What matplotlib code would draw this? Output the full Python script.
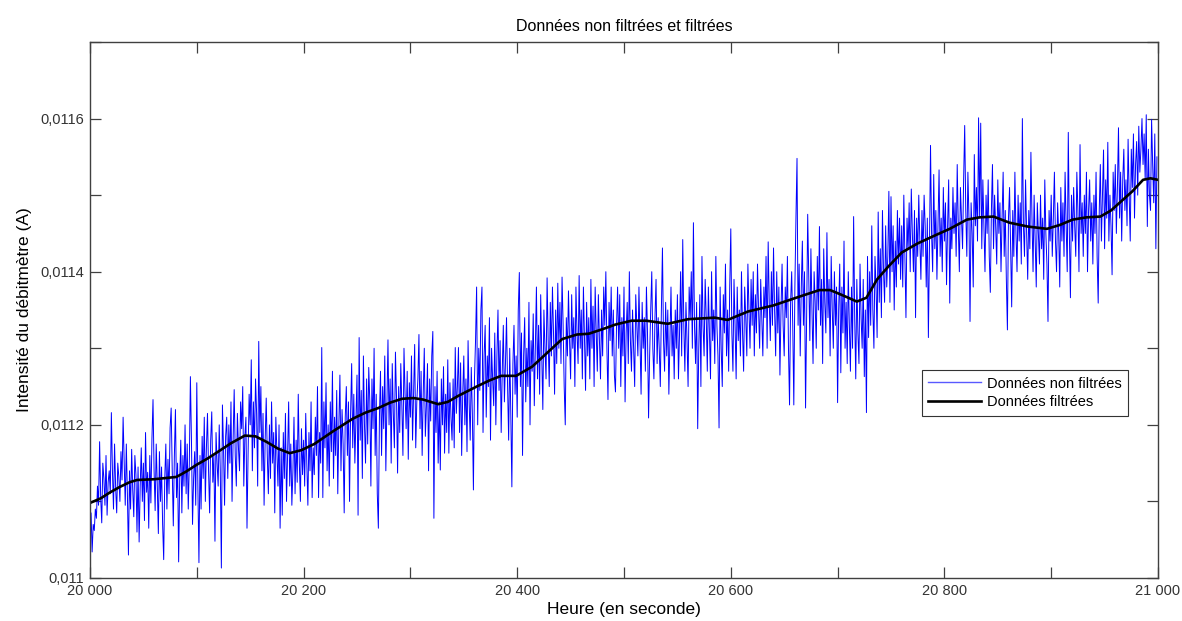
import matplotlib
matplotlib.use("Agg")
import matplotlib.pyplot as plt
from matplotlib.ticker import MultipleLocator, FuncFormatter
import numpy as np

# Time axis (s)
t_start = 20000

# Raw (non filtered) data in microamperes, one sample per second from 20000 s
raw_uA = [
    11040, 11085, 11034, 11070, 11062, 11090, 11078, 11120, 11095, 11178,
    11105, 11072, 11150, 11130, 11095, 11160, 11082, 11125, 11140, 11110,
    11216, 11140, 11090, 11175, 11118, 11085, 11150, 11132, 11100, 11165,
    11128, 11210, 11150, 11095, 11175, 11110, 11030, 11140, 11090, 11168,
    11115, 11080, 11160, 11135, 11060, 11145, 11047, 11120, 11170, 11100,
    11150, 11075, 11190, 11112, 11138, 11065, 11160, 11098, 11182, 11233,
    11140, 11088, 11175, 11120, 11058, 11165, 11100, 11145, 11070, 11024,
    11130, 11175, 11090, 11155, 11110, 11196, 11222, 11140, 11068, 11160,
    11220, 11105, 11150, 11021, 11130, 11180, 11085, 11160, 11120, 11200,
    11110, 11175, 11090, 11150, 11263, 11180, 11070, 11130, 11165, 11095,
    11255, 11120, 11020, 11160, 11090, 11185, 11130, 11210, 11100, 11170,
    11215, 11140, 11085, 11180, 11217, 11125, 11160, 11048, 11190, 11150,
    11120, 11200, 11140, 11013, 11226, 11170, 11095, 11185, 11210, 11130,
    11200, 11150, 11230, 11100, 11180, 11246, 11160, 11120, 11215, 11170,
    11140, 11230, 11195, 11250, 11120, 11185, 11210, 11065, 11160, 11240,
    11200, 11285, 11140, 11230, 11170, 11260, 11215, 11120, 11309, 11190,
    11250, 11140, 11215, 11095, 11180, 11235, 11160, 11110, 11200, 11130,
    11230, 11150, 11190, 11085, 11210, 11165, 11120, 11200, 11065, 11170,
    11082, 11190, 11130, 11215, 11100, 11160, 11230, 11120, 11175, 11095,
    11140, 11210, 11110, 11180, 11125, 11240, 11150, 11100, 11195, 11135,
    11180, 11120, 11215, 11150, 11095, 11190, 11140, 11230, 11105, 11170,
    11135, 11210, 11160, 11250, 11105, 11190, 11150, 11301, 11105, 11230,
    11170, 11255, 11140, 11200, 11120, 11230, 11165, 11270, 11130, 11210,
    11160, 11245, 11110, 11200, 11265, 11140, 11220, 11175, 11085, 11210,
    11250, 11160, 11230, 11100, 11215, 11280, 11170, 11240, 11150, 11205,
    11265, 11082, 11314, 11180, 11245, 11130, 11290, 11200, 11150, 11260,
    11175, 11275, 11230, 11120, 11260, 11195, 11300, 11160, 11240, 11110,
    11065, 11210, 11270, 11160, 11250, 11195, 11290, 11140, 11230, 11311,
    11200, 11260, 11150, 11280, 11215, 11170, 11295, 11235, 11137, 11250,
    11190, 11280, 11225, 11160, 11300, 11240, 11195, 11270, 11155, 11255,
    11210, 11290, 11180, 11245, 11305, 11170, 11230, 11260, 11318, 11195,
    11270, 11160, 11240, 11300, 11185, 11225, 11280, 11140, 11260, 11205,
    11290, 11322, 11078, 11250, 11190, 11270, 11150, 11230, 11141, 11260,
    11200, 11276, 11163, 11240, 11190, 11285, 11163, 11255, 11210, 11180,
    11260, 11170, 11301, 11215, 11250, 11301, 11190, 11281, 11160, 11240,
    11290, 11200, 11260, 11165, 11310, 11230, 11180, 11275, 11215, 11115,
    11260, 11311, 11380, 11200, 11300, 11245, 11350, 11380, 11190, 11290,
    11330, 11210, 11290, 11250, 11340, 11180, 11300, 11260, 11225, 11320,
    11200, 11290, 11350, 11245, 11310, 11190, 11270, 11330, 11230, 11280,
    11340, 11250, 11180, 11300, 11215, 11119, 11280, 11330, 11240, 11290,
    11210, 11350, 11399, 11250, 11320, 11160, 11290, 11340, 11230, 11300,
    11250, 11360, 11200, 11310, 11270, 11345, 11225, 11300, 11380, 11260,
    11330, 11240, 11370, 11290, 11220, 11350, 11300, 11260, 11392, 11310,
    11250, 11360, 11290, 11380, 11320, 11240, 11350, 11280, 11385, 11300,
    11360, 11280, 11393, 11330, 11250, 11200, 11340, 11290, 11375, 11310,
    11260, 11370, 11300, 11340, 11250, 11380, 11320, 11280, 11395, 11300,
    11350, 11260, 11380, 11310, 11245, 11360, 11290, 11340, 11260, 11390,
    11300, 11355, 11250, 11380, 11320, 11270, 11370, 11310, 11260, 11350,
    11290, 11380, 11330, 11400, 11300, 11233, 11360, 11310, 11380, 11290,
    11350, 11265, 11243, 11330, 11380, 11300, 11370, 11250, 11340, 11290,
    11380, 11230, 11320, 11360, 11280, 11400, 11310, 11270, 11350, 11300,
    11250, 11370, 11330, 11290, 11380, 11310, 11240, 11360, 11300, 11340,
    11270, 11380, 11320, 11209, 11290, 11350, 11400, 11300, 11260, 11340,
    11390, 11280, 11340, 11300, 11250, 11350, 11431, 11310, 11270, 11360,
    11290, 11350, 11240, 11310, 11380, 11290, 11330, 11260, 11350, 11300,
    11370, 11260, 11320, 11400, 11290, 11442, 11330, 11270, 11360, 11310,
    11250, 11380, 11340, 11400, 11300, 11464, 11330, 11280, 11360, 11195,
    11300, 11370, 11250, 11420, 11330, 11290, 11390, 11340, 11270, 11380,
    11320, 11260, 11400, 11310, 11350, 11280, 11420, 11330, 11290, 11196,
    11380, 11300, 11250, 11370, 11320, 11410, 11290, 11350, 11270, 11380,
    11456, 11320, 11270, 11390, 11330, 11260, 11380, 11310, 11350, 11290,
    11400, 11320, 11270, 11380, 11340, 11290, 11410, 11350, 11300, 11390,
    11330, 11400, 11290, 11370, 11320, 11410, 11350, 11300, 11390, 11340,
    11290, 11380, 11340, 11420, 11300, 11439, 11360, 11310, 11400, 11330,
    11431, 11350, 11290, 11400, 11320, 11380, 11265, 11350, 11410, 11330,
    11290, 11380, 11340, 11420, 11300, 11226, 11360, 11400, 11330, 11226,
    11380, 11470, 11548, 11330, 11410, 11290, 11380, 11440, 11330, 11400,
    11222, 11340, 11475, 11390, 11310, 11430, 11350, 11280, 11400, 11360,
    11300, 11420, 11350, 11459, 11330, 11390, 11280, 11430, 11360, 11320,
    11451, 11340, 11390, 11290, 11420, 11350, 11300, 11400, 11330, 11380,
    11229, 11350, 11410, 11268, 11380, 11320, 11440, 11300, 11360, 11280,
    11400, 11330, 11270, 11380, 11300, 11472, 11340, 11260, 11390, 11320,
    11280, 11410, 11340, 11300, 11390, 11263, 11350, 11216, 11420, 11314,
    11400, 11330, 11460, 11350, 11300, 11420, 11380, 11314, 11478, 11360,
    11430, 11340, 11480, 11400, 11360, 11460, 11380, 11420, 11505, 11360,
    11498, 11400, 11460, 11350, 11440, 11380, 11480, 11410, 11470, 11390,
    11460, 11380, 11500, 11420, 11340, 11470, 11430, 11490, 11400, 11508,
    11450, 11400, 11480, 11340, 11470, 11420, 11500, 11440, 11390, 11480,
    11420, 11500, 11460, 11380, 11470, 11314, 11430, 11565, 11450, 11400,
    11527, 11430, 11480, 11390, 11460, 11533, 11420, 11470, 11400, 11510,
    11440, 11490, 11383, 11460, 11520, 11359, 11470, 11430, 11510, 11450,
    11490, 11420, 11540, 11460, 11400, 11510, 11470, 11430, 11520, 11591,
    11480, 11420, 11530, 11470, 11335, 11490, 11450, 11380, 11553, 11460,
    11510, 11440, 11601, 11470, 11594, 11430, 11520, 11460, 11400, 11500,
    11450, 11520, 11420, 11373, 11480, 11540, 11430, 11500, 11460, 11410,
    11520, 11450, 11490, 11400, 11470, 11530, 11420, 11480, 11390, 11324,
    11470, 11510, 11430, 11354, 11480, 11420, 11530, 11450, 11400, 11500,
    11440, 11490, 11410, 11600, 11460, 11420, 11520, 11450, 11390, 11480,
    11430, 11556, 11470, 11400, 11500, 11440, 11380, 11490, 11450, 11410,
    11500, 11430, 11470, 11390, 11520, 11450, 11410, 11335, 11480, 11440,
    11500, 11420, 11470, 11530, 11440, 11400, 11490, 11450, 11380, 11510,
    11440, 11490, 11420, 11530, 11460, 11400, 11582, 11450, 11366, 11500,
    11440, 11510, 11460, 11420, 11530, 11480, 11400, 11566, 11450, 11490,
    11420, 11500, 11450, 11530, 11400, 11480, 11520, 11440, 11490, 11410,
    11500, 11450, 11530, 11420, 11359, 11480, 11540, 11440, 11500, 11559,
    11430, 11520, 11470, 11569, 11440, 11500, 11460, 11396, 11530, 11480,
    11540, 11450, 11510, 11588, 11470, 11530, 11440, 11520, 11560, 11480,
    11520, 11460, 11573, 11500, 11440, 11560, 11510, 11580, 11470, 11540,
    11570, 11500, 11590, 11530, 11560, 11600, 11540, 11580, 11520, 11605,
    11459, 11560, 11500, 11480, 11599, 11540, 11490, 11580, 11430, 11550,
]

# Filtered data: times (s) and values (microamperes)
filt_t = [20000, 20010, 20019, 20028, 20037, 20044, 20060, 20081, 20090,
          20100, 20110, 20120, 20132, 20145, 20155, 20165, 20176, 20187,
          20198, 20210, 20228, 20246, 20258, 20270, 20281, 20292, 20303,
          20312, 20326, 20335, 20345, 20362, 20374, 20385, 20399, 20414,
          20428, 20442, 20456, 20467, 20480, 20492, 20507, 20521, 20541,
          20560, 20585, 20597, 20616, 20640, 20659, 20672, 20683, 20693,
          20700, 20710, 20718, 20727, 20737, 20747, 20760, 20775, 20789,
          20805, 20821, 20833, 20846, 20861, 20878, 20896, 20908, 20920,
          20933, 20946, 20956, 20964, 20976, 20986, 20993, 21000]
filt_uA = [11098, 11104, 11112, 11119, 11125, 11128, 11129, 11132, 11139,
           11148, 11156, 11165, 11176, 11186, 11185, 11178, 11169, 11163,
           11167, 11175, 11192, 11208, 11216, 11222, 11229, 11234, 11235,
           11233, 11227, 11230, 11238, 11250, 11258, 11264, 11264, 11276,
           11294, 11312, 11318, 11319, 11325, 11331, 11336, 11336, 11332,
           11338, 11340, 11337, 11348, 11356, 11365, 11371, 11376, 11376,
           11372, 11366, 11361, 11366, 11390, 11406, 11425, 11437, 11446,
           11456, 11468, 11471, 11472, 11464, 11459, 11456, 11461, 11468,
           11471, 11472, 11480, 11490, 11505, 11520, 11522, 11520]

title = "Données non filtrées et filtrées"
xlabel = "Heure (en seconde)"
ylabel = "Intensité du débitmètre (A)"
label_raw = "Données non filtrées"
label_filt = "Données filtrées"

t_raw = t_start + np.arange(len(raw_uA))
raw = np.array(raw_uA) * 1e-6
filt = np.array(filt_uA) * 1e-6

plt.rcParams['font.family'] = ['Liberation Sans', 'DejaVu Sans']
fig = plt.figure(figsize=(11.82, 6.21), dpi=100)
ax = fig.add_axes([90/1182, 43/621, 1068/1182, 536/621])

ax.plot(t_raw, raw, color=(0, 0, 1), lw=0.7, label=label_raw)
ax.plot(filt_t, filt, color='black', lw=1.9, label=label_filt,
        solid_joinstyle='round')

ax.set_xlim(20000, 21000)
ax.set_ylim(0.011, 0.0117)

ax.xaxis.set_major_locator(MultipleLocator(200))
ax.xaxis.set_minor_locator(MultipleLocator(100))
ax.yaxis.set_major_locator(MultipleLocator(0.0002))
ax.yaxis.set_minor_locator(MultipleLocator(0.0001))

def xfmt(v, pos):
    s = f"{int(round(v)):d}"
    return s[:-3] + " " + s[-3:] if len(s) > 3 else s

def yfmt(v, pos):
    s = f"{v:.4f}".rstrip('0')
    return s.replace('.', ',')

ax.xaxis.set_major_formatter(FuncFormatter(xfmt))
ax.yaxis.set_major_formatter(FuncFormatter(yfmt))

tc = '#404040'
for sp in ax.spines.values():
    sp.set_color(tc)
    sp.set_linewidth(1.0)
ax.tick_params(which='both', direction='in', top=True, right=True,
               length=8, width=0.9, color=tc, labelcolor='#333333',
               labelsize=10.5, pad=4)

ax.set_title(title, fontsize=11.5, color='black', pad=8)
ax.set_xlabel(xlabel, fontsize=12.5, labelpad=3)
ax.set_ylabel(ylabel, fontsize=12.5, labelpad=6)

leg = ax.legend(loc='upper right', bbox_to_anchor=(0.972, 0.388),
                fontsize=10.5, frameon=True, fancybox=False, framealpha=1,
                edgecolor='#333333', handlelength=3.6, borderpad=0.45,
                labelspacing=0.3, handletextpad=0.4, borderaxespad=0)
leg.get_frame().set_linewidth(0.8)
leg.legend_handles[0].set_color((0.35, 0.35, 1.0))
leg.legend_handles[0].set_linewidth(1.0)

fig.savefig("out.png", dpi=100)
